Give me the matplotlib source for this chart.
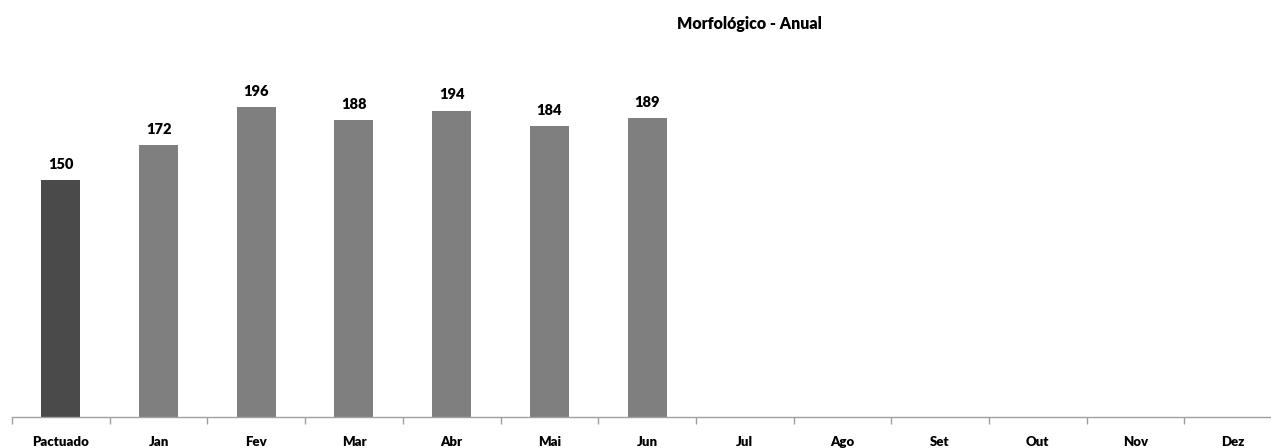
import matplotlib
matplotlib.use('Agg')
import matplotlib.pyplot as plt
import numpy as np

# monthly totals, first slot is the agreed target
categories = ['Pactuado', 'Jan', 'Fev', 'Mar', 'Abr', 'Mai', 'Jun',
              'Jul', 'Ago', 'Set', 'Out', 'Nov', 'Dez']
values = [150, 172, 196, 188, 194, 184, 189]
title = 'Morfológico - Anual'

plt.rcParams['font.family'] = ['Lato', 'DejaVu Sans']

W, H = 1271, 448
fig = plt.figure(figsize=(W / 100, H / 100), dpi=100)
# plot area: x from 12px, 97.7px per category; y from 60px to 417px
ax = fig.add_axes([12 / W, (H - 417) / H, 13 * 97.7 / W, (417 - 60) / H])

x = np.arange(len(values))
colors = ['#4a4a4a'] + ['#7f7f7f'] * (len(values) - 1)
ax.bar(x, values, width=0.4, color=colors, zorder=2)
for xi, v in zip(x, values):
    ax.text(xi, v + 6, str(v), ha='center', va='bottom',
            fontsize=10.5, fontweight='heavy')

ax.set_xlim(-0.5, len(categories) - 0.5)
ax.set_ylim(0, 226)
ax.set_yticks([])
for side in ['top', 'right', 'left']:
    ax.spines[side].set_visible(False)
ax.spines['bottom'].set_color('#a0a0a0')
ax.spines['bottom'].set_linewidth(1)

# boundary ticks between categories, labels centred under each
ax.set_xticks(np.arange(len(categories)) - 0.5)
ax.set_xticklabels([])
ax.tick_params(axis='x', which='major', direction='out', length=5,
               color='#a0a0a0', width=1)
ax.set_xticks(np.arange(len(categories)), minor=True)
ax.set_xticklabels(categories, minor=True, fontsize=9.5, fontweight='heavy')
ax.tick_params(axis='x', which='minor', length=0, pad=14)

fig.text(749 / W, 1 - 24 / H, title, ha='center', va='center',
         fontsize=11.5, fontweight='heavy')

fig.savefig('out.png', dpi=100)
